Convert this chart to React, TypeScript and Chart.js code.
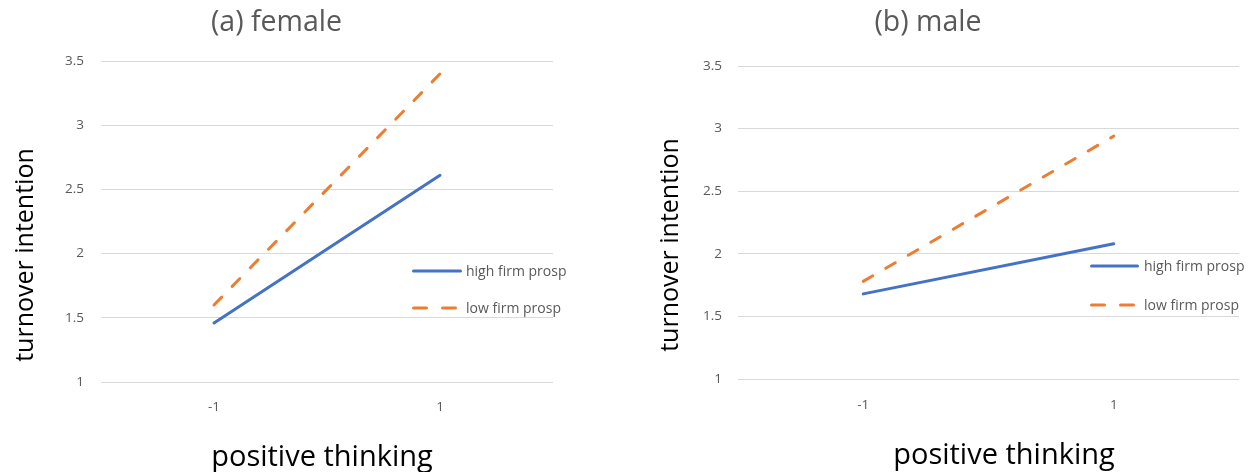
import React, { useEffect, useRef } from 'react';
import { Chart, registerables } from 'chart.js';

Chart.register(...registerables);

// ---- data ----
const xLabels = ['-1', '1'];
const seriesNames = ['high firm prosp', 'low firm prosp'];
const femaleHigh = [1.46, 2.61];
const femaleLow = [1.6, 3.4];
const maleHigh = [1.68, 2.08];
const maleLow = [1.78, 2.94];
const yMin = 1;
const yMax = 3.5;
const yStep = 0.5;
const panelTitles = ['(a) female', '(b) male'];
const xAxisTitle = 'positive thinking';
const yAxisTitle = 'turnover intention';

// ---- styles ----
const BLUE = '#4472C4';
const ORANGE = '#ED7D31';
const GRID = '#D9D9D9';
const GRAY = '#595959';
const FONT = "'Open Sans', sans-serif";

const overlayPlugin = {
  id: 'overlayText',
  afterDraw(chart: any) {
    const o = chart.options.plugins.overlayText;
    if (!o || !o.enabled) return;
    const ctx = chart.ctx;
    ctx.save();
    ctx.fillStyle = '#000000';
    ctx.font = `${o.xTitleSize}px ${FONT}`;
    ctx.textAlign = 'center';
    ctx.textBaseline = 'alphabetic';
    ctx.fillText(o.xTitle, o.xTitleX, o.xTitleY);
    ctx.font = `${o.yTitleSize}px ${FONT}`;
    ctx.save();
    ctx.translate(o.yTitleX, o.yTitleY);
    ctx.rotate(-Math.PI / 2);
    ctx.fillText(o.yTitle, 0, 0);
    ctx.restore();

    ctx.font = `${o.legendSize}px ${FONT}`;
    ctx.textAlign = 'left';
    ctx.textBaseline = 'middle';
    chart.data.datasets.forEach((ds: any, i: number) => {
      const y = o.legendY[i];
      ctx.save();
      ctx.strokeStyle = ds.borderColor;
      ctx.lineWidth = ds.borderWidth;
      ctx.lineCap = 'round';
      ctx.setLineDash(ds.borderDash ? o.legendDash : []);
      ctx.beginPath();
      ctx.moveTo(o.legendX, y);
      ctx.lineTo(o.legendX + o.legendLen, y);
      ctx.stroke();
      ctx.restore();
      ctx.fillStyle = GRAY;
      ctx.fillText(ds.label, o.legendTextX, y + 1.5);
    });
    ctx.restore();
  },
};

function makeConfig(p: any): any {
  return {
    type: 'line',
    data: {
      labels: xLabels,
      datasets: [
        {
          label: seriesNames[0],
          data: p.high,
          borderColor: BLUE,
          backgroundColor: BLUE,
          borderWidth: 3,
          pointRadius: 0,
          borderCapStyle: 'round',
          tension: 0,
          fill: false,
        },
        {
          label: seriesNames[1],
          data: p.low,
          borderColor: ORANGE,
          backgroundColor: ORANGE,
          borderWidth: 3,
          pointRadius: 0,
          borderCapStyle: 'round',
          borderDash: [11, 15],
          tension: 0,
          fill: false,
        },
      ],
    },
    options: {
      responsive: false,
      animation: false,
      devicePixelRatio: 1,
      events: [],
      layout: { padding: { left: 0, right: p.padRight, top: 0, bottom: 0 } },
      plugins: {
        legend: { display: false },
        tooltip: { enabled: false },
        title: {
          display: true,
          text: p.title,
          color: GRAY,
          font: { family: FONT, size: 28.5, weight: 'normal', lineHeight: 1.2 },
          padding: { top: 6, bottom: p.titleBottom },
        },
        overlayText: {
          enabled: true,
          xTitle: xAxisTitle,
          xTitleX: p.xTitleX,
          xTitleY: p.xTitleY,
          xTitleSize: 29,
          yTitle: yAxisTitle,
          yTitleX: p.yTitleX,
          yTitleY: p.yTitleY,
          yTitleSize: 25,
          legendX: p.legendX,
          legendLen: p.legendLen,
          legendTextX: p.legendTextX,
          legendY: p.legendY,
          legendDash: [13, 16],
          legendSize: 14,
        },
      },
      scales: {
        x: {
          type: 'category',
          offset: true,
          grid: { display: false },
          border: { display: false },
          ticks: { color: GRAY, font: { family: FONT, size: 13.5 }, padding: p.xTickPad },
          afterFit: (s: any) => {
            s.height = p.xHeight;
          },
        },
        y: {
          min: yMin,
          max: yMax,
          ticks: {
            stepSize: yStep,
            color: GRAY,
            font: { family: FONT, size: 13.5 },
            padding: p.yTickPad,
            callback: (v: any) => String(v),
          },
          grid: { color: GRID, lineWidth: 1, drawTicks: false },
          border: { display: false },
          afterFit: (s: any) => {
            s.width = p.yWidth;
          },
        },
      },
    },
    plugins: [overlayPlugin],
  };
}

const panels = [
  {
    left: 0,
    width: 617,
    title: panelTitles[0],
    high: femaleHigh,
    low: femaleLow,
    padRight: 64,
    titleBottom: 20.8,
    yWidth: 101,
    xHeight: 90,
    xTickPad: 9,
    yTickPad: 17,
    xTitleX: 322,
    xTitleY: 466,
    yTitleX: 33,
    yTitleY: 255,
    legendX: 413.5,
    legendLen: 47,
    legendTextX: 466,
    legendY: [271, 308],
  },
  {
    left: 617,
    width: 638,
    title: panelTitles[1],
    high: maleHigh,
    low: maleLow,
    padRight: 16,
    titleBottom: 25.8,
    yWidth: 121,
    xHeight: 93,
    xTickPad: 10,
    yTickPad: 16,
    xTitleX: 387,
    xTitleY: 464,
    yTitleX: 61,
    yTitleY: 245,
    legendX: 474.5,
    legendLen: 46,
    legendTextX: 527,
    legendY: [266, 305],
  },
];

function Panel({ p }: { p: any }) {
  const ref = useRef<HTMLCanvasElement | null>(null);
  useEffect(() => {
    if (!ref.current) return;
    const chart = new Chart(ref.current, makeConfig(p));
    return () => chart.destroy();
  }, [p]);
  return (
    <canvas
      ref={ref}
      width={p.width}
      height={472}
      style={{ position: 'absolute', left: p.left, top: 0, width: p.width, height: 472 }}
    />
  );
}

export default function App() {
  return (
    <div
      style={{
        position: 'fixed',
        left: 0,
        top: 0,
        width: 1255,
        height: 472,
        background: '#ffffff',
        overflow: 'hidden',
      }}
    >
      {panels.map((p, i) => (
        <Panel key={i} p={p} />
      ))}
    </div>
  );
}
